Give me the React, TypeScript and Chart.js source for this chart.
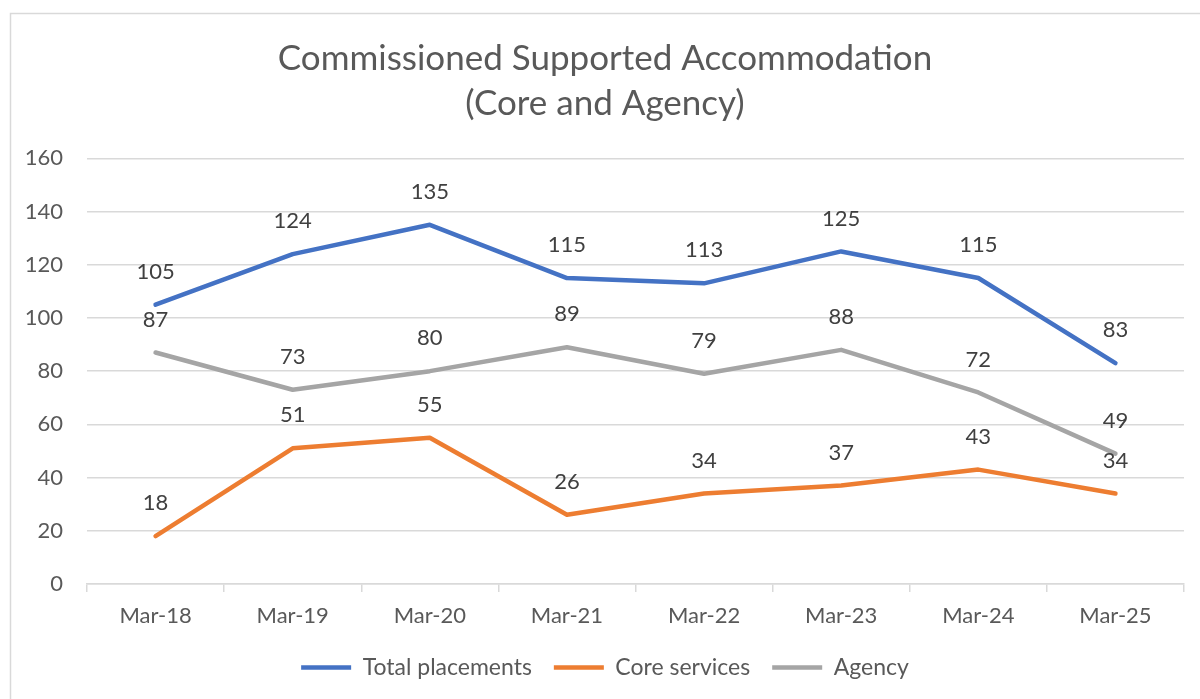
import React, { useEffect, useRef } from "react";
import { Chart, registerables } from "chart.js";

Chart.register(...registerables);

const categories = ["Mar-18", "Mar-19", "Mar-20", "Mar-21", "Mar-22", "Mar-23", "Mar-24", "Mar-25"];
const totalPlacements = [105, 124, 135, 115, 113, 125, 115, 83];
const coreServices = [18, 51, 55, 26, 34, 37, 43, 34];
const agency = [87, 73, 80, 89, 79, 88, 72, 49];
const titleLines = ["Commissioned Supported Accommodation", "(Core and Agency)"];

const FONT = "Lato, 'Open Sans', sans-serif";

const borderPlugin = {
  id: "frameBorder",
  beforeDraw(chart: any) {
    const ctx = chart.ctx;
    ctx.save();
    ctx.fillStyle = "#ffffff";
    ctx.fillRect(0, 0, chart.width, chart.height);
    ctx.strokeStyle = "#d9d9d9";
    ctx.lineWidth = 1.5;
    ctx.strokeRect(10.5, 13.5, 1400, 900);
    ctx.restore();
  },
};

const dataLabelPlugin = {
  id: "dataLabels",
  afterDatasetsDraw(chart: any) {
    const ctx = chart.ctx;
    ctx.save();
    ctx.font = `22px ${FONT}`;
    ctx.fillStyle = "#404040";
    ctx.textAlign = "center";
    ctx.textBaseline = "middle";
    chart.data.datasets.forEach((ds: any, i: number) => {
      const meta = chart.getDatasetMeta(i);
      meta.data.forEach((pt: any, j: number) => {
        ctx.fillText(String(ds.data[j]), pt.x, pt.y - 33);
      });
    });
    ctx.restore();
  },
};

export default function App() {
  const ref = useRef<HTMLCanvasElement | null>(null);
  useEffect(() => {
    if (!ref.current) return;
    const lineDs = (label: string, data: number[], color: string) => ({
      label,
      data,
      borderColor: color,
      backgroundColor: color,
      borderWidth: 4.5,
      borderCapStyle: "round" as const,
      borderJoinStyle: "round" as const,
      pointRadius: 0,
      pointHoverRadius: 0,
      tension: 0,
      fill: false,
    });
    const chart = new Chart(ref.current, {
      type: "line",
      data: {
        labels: categories,
        datasets: [
          lineDs("Total placements", totalPlacements, "#4472C4"),
          lineDs("Core services", coreServices, "#ED7D31"),
          lineDs("Agency", agency, "#A5A5A5"),
        ],
      },
      options: {
        responsive: false,
        animation: false,
        layout: { padding: { left: 26, right: 16, top: 0, bottom: 10 } },
        plugins: {
          tooltip: { enabled: false },
          title: {
            display: true,
            text: titleLines,
            color: "#595959",
            font: { family: FONT, size: 35, weight: "normal", lineHeight: 1.29 },
            padding: { top: 36, bottom: 32 },
          },
          legend: {
            position: "bottom",
            labels: {
              usePointStyle: true,
              pointStyle: "line",
              pointStyleWidth: 50,
              boxHeight: 22,
              color: "#595959",
              font: { family: FONT, size: 23 },
              padding: 22,
            },
          },
        },
        scales: {
          x: {
            offset: true,
            grid: {
              offset: true,
              drawOnChartArea: false,
              drawTicks: true,
              tickLength: 8,
              color: "#d9d9d9",
              lineWidth: 1.5,
            },
            border: { display: true, color: "#d9d9d9", width: 1.5 },
            ticks: {
              color: "#595959",
              font: { family: FONT, size: 22 },
              padding: 11,
              maxRotation: 0,
              autoSkip: false,
            },
            afterFit(scale: any) {
              scale.height = 50;
            },
          },
          y: {
            min: 0,
            max: 160,
            grid: { color: "#d9d9d9", lineWidth: 1.5, drawTicks: false },
            border: { display: false },
            ticks: {
              stepSize: 20,
              color: "#595959",
              font: { family: FONT, size: 22 },
              padding: 24,
            },
            afterFit(scale: any) {
              scale.width = 61;
            },
          },
        },
      },
      plugins: [borderPlugin, dataLabelPlugin],
    });
    return () => chart.destroy();
  }, []);
  return (
    <div style={{ position: "absolute", left: 0, top: 0, width: 1200, height: 699 }}>
      <canvas ref={ref} width={1200} height={699} style={{ display: "block" }} />
    </div>
  );
}
